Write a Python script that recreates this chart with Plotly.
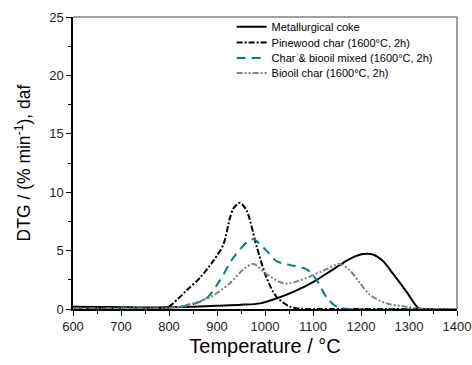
import plotly.graph_objects as go

# Metallurgical coke
coke_T = [600, 650, 700, 750, 800, 850, 900, 950, 990, 1024, 1059, 1100, 1142, 1177, 1205, 1226, 1246, 1267, 1295, 1319, 1330, 1400]
coke_y = [0.2, 0.18, 0.15, 0.12, 0.14, 0.2, 0.28, 0.36, 0.48, 0.9, 1.46, 2.3, 3.4, 4.3, 4.7, 4.65, 4.1, 3.0, 1.46, 0.1, 0.0, 0.0]

# Pinewood char (1600°C, 2h)
pine_T = [600, 700, 780, 799, 837, 865, 892, 913, 927, 934, 948, 962, 983, 1003, 1024, 1052, 1075, 1100, 1400]
pine_y = [0.05, 0.05, 0.08, 0.2, 1.6, 2.7, 4.1, 5.5, 7.8, 8.6, 9.1, 8.4, 5.3, 2.7, 1.04, 0.2, 0.03, 0.0, 0.0]

# Char & biooil mixed (1600°C, 2h)
mix_T = [600, 700, 800, 840, 878, 906, 934, 962, 976, 1003, 1024, 1059, 1087, 1108, 1128, 1149, 1170, 1400]
mix_y = [0.05, 0.05, 0.05, 0.3, 0.9, 2.45, 4.4, 5.7, 5.97, 5.0, 4.1, 3.7, 3.4, 2.45, 1.0, 0.2, 0.02, 0.0]

# Biooil char (1600°C, 2h)
bio_T = [600, 700, 800, 837, 885, 927, 955, 976, 1003, 1031, 1045, 1073, 1115, 1156, 1177, 1198, 1219, 1253, 1295, 1325, 1400]
bio_y = [0.05, 0.05, 0.08, 0.34, 1.0, 2.2, 3.4, 3.86, 3.0, 2.3, 2.17, 2.45, 3.15, 3.86, 3.3, 2.2, 1.2, 0.48, 0.2, 0.03, 0.0]

names = ["Metallurgical coke", "Pinewood char (1600°C, 2h)",
         "Char & biooil mixed (1600°C, 2h)", "Biooil char (1600°C, 2h)"]

FONT = "Liberation Sans, Arial, sans-serif"

fig = go.Figure()
fig.add_trace(go.Scatter(x=coke_T, y=coke_y, mode="lines", name=names[0], legend="legend",
                         showlegend=True,
                         line=dict(color="black", width=2, shape="spline", smoothing=0.8)))
fig.add_trace(go.Scatter(x=pine_T, y=pine_y, mode="lines", name=names[1], legend="legend2",
                         line=dict(color="black", width=2, dash="6px,2px,2px,2px", shape="spline", smoothing=0.8)))
fig.add_trace(go.Scatter(x=mix_T, y=mix_y, mode="lines", name=names[2], legend="legend3",
                         line=dict(color="#008080", width=2, dash="9px,6px", shape="spline", smoothing=0.8)))
fig.add_trace(go.Scatter(x=bio_T, y=bio_y, mode="lines", name=names[3], legend="legend4",
                         line=dict(color="#808080", width=2, dash="6px,2px,2px,2px,2px,2px", shape="spline", smoothing=0.8)))

axis_font = dict(family=FONT, size=13, color="#222")
fig.update_xaxes(range=[600, 1400], dtick=100, tick0=600, showgrid=False, zeroline=False,
                 automargin=False,
                 showline=True, linecolor="black", linewidth=1.5,
                 ticks="outside", ticklen=5, tickwidth=1, tickcolor="black",
                 minor=dict(dtick=50, ticks="outside", ticklen=3, tickcolor="black"),
                 tickfont=axis_font,
                 title=dict(text="Temperature / °C", font=dict(family=FONT, size=20, color="black"), standoff=6))
fig.update_yaxes(range=[0, 25], dtick=5, showgrid=False, zeroline=False,
                 automargin=False,
                 showline=True, linecolor="black", linewidth=1.5,
                 ticks="outside", ticklen=5, tickwidth=1, tickcolor="black",
                 minor=dict(dtick=2.5, ticks="outside", ticklen=3, tickcolor="black"),
                 tickfont=axis_font,
                 title=dict(text="DTG / (% min<sup>-1</sup>), daf", font=dict(family=FONT, size=17.5, color="black"), standoff=14))

# gray top and right frame
fig.add_shape(type="line", xref="paper", yref="paper", x0=0, x1=1, y0=1, y1=1,
              line=dict(color="#808080", width=1.5))
fig.add_shape(type="line", xref="paper", yref="paper", x0=1, x1=1, y0=0, y1=1,
              line=dict(color="#808080", width=1.5))

leg_common = dict(x=0.413, xanchor="left", yanchor="middle", bgcolor="rgba(0,0,0,0)",
                  borderwidth=0, font=dict(family=FONT, size=11, color="black"))
fig.update_layout(
    width=472, height=365,
    margin=dict(l=73, r=15, t=13, b=56),
    paper_bgcolor="white", plot_bgcolor="white",
    showlegend=True,
    legend=dict(y=0.967, **leg_common),
    legend2=dict(y=0.913, **leg_common),
    legend3=dict(y=0.860, **leg_common),
    legend4=dict(y=0.808, **leg_common),
)

fig.write_html("out.html")
